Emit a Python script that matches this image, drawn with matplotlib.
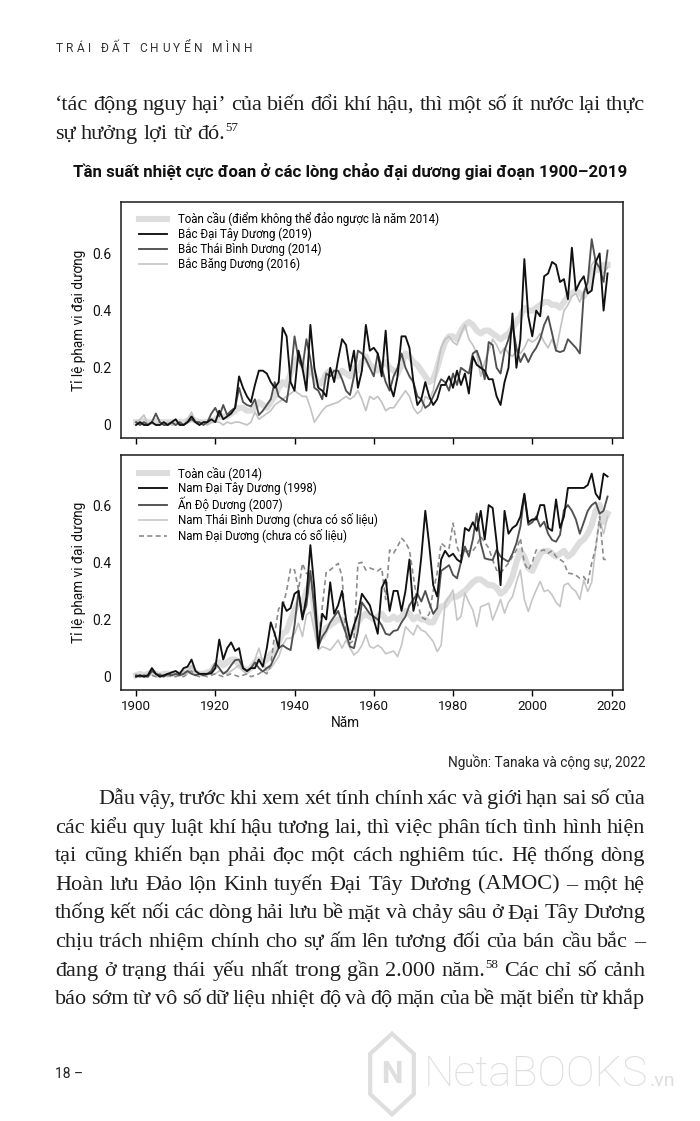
import numpy as np
import matplotlib
matplotlib.use("Agg")
import matplotlib.pyplot as plt
from matplotlib import font_manager as fm
from matplotlib.patches import RegularPolygon

W, H = 700, 1121

# ---- data (fraction of ocean area) ----
years = np.arange(1900, 2020)

glob_n = [
    0.01, 0.01, 0.015, 0.01, 0.01, 0.015, 0.01, 0.01, 0.01, 0.01,
    0.01, 0.01, 0.01, 0.015, 0.02, 0.015, 0.01, 0.01, 0.01, 0.015,
    0.02, 0.03, 0.03, 0.03, 0.04, 0.05, 0.06, 0.06, 0.05, 0.05,
    0.06, 0.08, 0.07, 0.06, 0.08, 0.10, 0.13, 0.15, 0.14, 0.18,
    0.22, 0.24, 0.21, 0.17, 0.20, 0.17, 0.14, 0.15, 0.18, 0.19,
    0.18, 0.17, 0.19, 0.18, 0.17, 0.20, 0.19, 0.22, 0.24, 0.21,
    0.20, 0.19, 0.21, 0.22, 0.20, 0.19, 0.18, 0.21, 0.25, 0.24,
    0.22, 0.21, 0.19, 0.17, 0.15, 0.16, 0.20, 0.25, 0.29, 0.31,
    0.31, 0.30, 0.33, 0.35, 0.36, 0.35, 0.33, 0.32, 0.33, 0.33,
    0.32, 0.31, 0.30, 0.31, 0.32, 0.34, 0.36, 0.38, 0.41, 0.40,
    0.40, 0.41, 0.42, 0.43, 0.43, 0.42, 0.42, 0.41, 0.43, 0.45,
    0.46, 0.47, 0.46, 0.45, 0.47, 0.52, 0.55, 0.54, 0.56, 0.56]

natl = [
    0.0, 0.01, 0.0, 0.0, 0.01, 0.0, 0.0, 0.01, 0.0, 0.01,
    0.02, 0.0, 0.0, 0.01, 0.03, 0.01, 0.0, 0.01, 0.01, 0.02,
    0.01, 0.05, 0.02, 0.03, 0.04, 0.06, 0.17, 0.13, 0.10, 0.08,
    0.14, 0.19, 0.19, 0.18, 0.15, 0.13, 0.15, 0.34, 0.31, 0.15,
    0.12, 0.26, 0.20, 0.12, 0.35, 0.20, 0.13, 0.12, 0.10, 0.20,
    0.15, 0.23, 0.30, 0.28, 0.19, 0.26, 0.13, 0.19, 0.35, 0.26,
    0.27, 0.25, 0.17, 0.33, 0.14, 0.10, 0.17, 0.31, 0.31, 0.27,
    0.15, 0.07, 0.09, 0.15, 0.10, 0.07, 0.09, 0.14, 0.14, 0.17,
    0.13, 0.19, 0.14, 0.18, 0.11, 0.24, 0.21, 0.20, 0.19, 0.16,
    0.16, 0.10, 0.07, 0.15, 0.20, 0.39, 0.20, 0.30, 0.58, 0.38,
    0.31, 0.40, 0.38, 0.52, 0.53, 0.57, 0.56, 0.50, 0.51, 0.44,
    0.62, 0.47, 0.50, 0.52, 0.46, 0.47, 0.57, 0.60, 0.40, 0.53]

npac = [
    0.01, 0.0, 0.01, 0.0, 0.01, 0.04, 0.01, 0.0, 0.0, 0.01,
    0.0, 0.01, 0.0, 0.01, 0.02, 0.01, 0.01, 0.0, 0.01, 0.04,
    0.06, 0.03, 0.07, 0.035, 0.05, 0.06, 0.13, 0.08, 0.07, 0.065,
    0.09, 0.035, 0.05, 0.07, 0.09, 0.15, 0.10, 0.09, 0.08, 0.17,
    0.31, 0.23, 0.20, 0.30, 0.23, 0.13, 0.12, 0.09, 0.18, 0.17,
    0.19, 0.19, 0.16, 0.12, 0.105, 0.17, 0.26, 0.25, 0.23, 0.20,
    0.17, 0.25, 0.20, 0.15, 0.12, 0.17, 0.20, 0.25, 0.20, 0.17,
    0.15, 0.10, 0.09, 0.06, 0.07, 0.10, 0.13, 0.16, 0.15, 0.12,
    0.18, 0.14, 0.20, 0.19, 0.18, 0.25, 0.26, 0.22, 0.16, 0.29,
    0.28, 0.20, 0.18, 0.26, 0.30, 0.35, 0.27, 0.22, 0.25, 0.22,
    0.25, 0.27, 0.30, 0.35, 0.38, 0.32, 0.26, 0.255, 0.26, 0.30,
    0.285, 0.27, 0.25, 0.46, 0.50, 0.65, 0.57, 0.55, 0.50, 0.61]

arct = [
    0.01, 0.02, 0.035, 0.0, 0.01, 0.0, 0.01, 0.0, 0.01, 0.0,
    0.0, 0.01, 0.0, 0.02, 0.045, 0.01, 0.0, 0.01, 0.0, 0.01,
    0.01, 0.01, 0.0, 0.01, 0.005, 0.01, 0.01, 0.005, 0.0, 0.01,
    0.045, 0.02, 0.03, 0.04, 0.05, 0.07, 0.08, 0.09, 0.10, 0.11,
    0.12, 0.11, 0.10, 0.10, 0.06, 0.01, 0.03, 0.05, 0.065, 0.07,
    0.075, 0.08, 0.09, 0.10, 0.09, 0.10, 0.12, 0.09, 0.05, 0.10,
    0.09, 0.10, 0.08, 0.05, 0.06, 0.06, 0.08, 0.10, 0.12, 0.10,
    0.06, 0.04, 0.05, 0.10, 0.09, 0.12, 0.20, 0.27, 0.30, 0.31,
    0.29, 0.28, 0.32, 0.35, 0.30, 0.28, 0.25, 0.17, 0.22, 0.26,
    0.30, 0.28, 0.25, 0.27, 0.25, 0.24, 0.26, 0.25, 0.27, 0.30,
    0.29, 0.30, 0.32, 0.29, 0.27, 0.30, 0.26, 0.33, 0.40, 0.42,
    0.45, 0.46, 0.43, 0.47, 0.50, 0.56, 0.58, 0.55, 0.53, 0.55]

glob_s = [
    0.005, 0.01, 0.005, 0.01, 0.015, 0.01, 0.005, 0.01, 0.01, 0.01,
    0.01, 0.01, 0.015, 0.02, 0.03, 0.015, 0.01, 0.01, 0.015, 0.02,
    0.04, 0.05, 0.04, 0.05, 0.06, 0.06, 0.04, 0.03, 0.02, 0.03,
    0.05, 0.06, 0.05, 0.06, 0.08, 0.09, 0.12, 0.15, 0.16, 0.20,
    0.23, 0.26, 0.25, 0.30, 0.33, 0.24, 0.15, 0.14, 0.17, 0.18,
    0.19, 0.20, 0.20, 0.17, 0.15, 0.16, 0.19, 0.21, 0.22, 0.21,
    0.20, 0.21, 0.22, 0.20, 0.20, 0.21, 0.20, 0.21, 0.23, 0.22,
    0.20, 0.21, 0.20, 0.20, 0.19, 0.19, 0.22, 0.245, 0.25, 0.27,
    0.28, 0.28, 0.29, 0.30, 0.315, 0.33, 0.34, 0.34, 0.33, 0.32,
    0.32, 0.31, 0.29, 0.30, 0.32, 0.35, 0.40, 0.44, 0.42, 0.38,
    0.37, 0.40, 0.43, 0.44, 0.44, 0.43, 0.42, 0.43, 0.44, 0.42,
    0.43, 0.45, 0.47, 0.48, 0.50, 0.53, 0.58, 0.60, 0.54, 0.57]

satl = [
    0.0, 0.005, 0.0, 0.005, 0.03, 0.01, 0.0, 0.005, 0.01, 0.015,
    0.02, 0.01, 0.03, 0.035, 0.06, 0.02, 0.01, 0.01, 0.01, 0.012,
    0.03, 0.13, 0.06, 0.10, 0.12, 0.09, 0.10, 0.03, 0.02, 0.03,
    0.03, 0.06, 0.035, 0.10, 0.19, 0.15, 0.10, 0.26, 0.23, 0.24,
    0.29, 0.30, 0.20, 0.28, 0.46, 0.31, 0.10, 0.22, 0.20, 0.33,
    0.22, 0.25, 0.30, 0.20, 0.13, 0.18, 0.22, 0.29, 0.27, 0.25,
    0.20, 0.15, 0.31, 0.34, 0.23, 0.30, 0.30, 0.23, 0.30, 0.41,
    0.23, 0.29, 0.42, 0.58, 0.46, 0.32, 0.28, 0.41, 0.44, 0.42,
    0.43, 0.41, 0.40, 0.52, 0.51, 0.54, 0.51, 0.58, 0.48, 0.60,
    0.59, 0.47, 0.32, 0.58, 0.50, 0.52, 0.53, 0.56, 0.64, 0.54,
    0.55, 0.55, 0.60, 0.60, 0.52, 0.51, 0.62, 0.52, 0.56, 0.66,
    0.66, 0.66, 0.66, 0.66, 0.67, 0.71, 0.64, 0.62, 0.71, 0.70]

indn = [
    0.005, 0.0, 0.005, 0.0, 0.02, 0.01, 0.005, 0.0, 0.01, 0.005,
    0.01, 0.005, 0.01, 0.02, 0.01, 0.005, 0.01, 0.005, 0.01, 0.02,
    0.047, 0.03, 0.01, 0.02, 0.04, 0.058, 0.06, 0.03, 0.02, 0.03,
    0.05, 0.03, 0.018, 0.03, 0.04, 0.07, 0.10, 0.11, 0.10, 0.093,
    0.18, 0.30, 0.21, 0.25, 0.37, 0.24, 0.105, 0.14, 0.16, 0.19,
    0.21, 0.23, 0.19, 0.15, 0.105, 0.10, 0.16, 0.26, 0.24, 0.22,
    0.21, 0.20, 0.18, 0.15, 0.146, 0.16, 0.163, 0.19, 0.21, 0.25,
    0.27, 0.29, 0.263, 0.30, 0.257, 0.22, 0.24, 0.37, 0.38, 0.39,
    0.356, 0.344, 0.40, 0.455, 0.42, 0.48, 0.571, 0.467, 0.414, 0.41,
    0.408, 0.443, 0.42, 0.41, 0.402, 0.43, 0.467, 0.525, 0.636, 0.531,
    0.54, 0.56, 0.525, 0.542, 0.50, 0.478, 0.472, 0.496, 0.583, 0.60,
    0.58, 0.55, 0.50, 0.54, 0.58, 0.60, 0.61, 0.57, 0.58, 0.63]

spac = [
    0.01, 0.0, 0.005, 0.01, 0.03, 0.01, 0.0, 0.005, 0.0, 0.01,
    0.005, 0.01, 0.02, 0.01, 0.04, 0.015, 0.01, 0.005, 0.01, 0.01,
    0.01, 0.02, 0.015, 0.01, 0.02, 0.03, 0.04, 0.02, 0.01, 0.03,
    0.06, 0.10, 0.05, 0.02, 0.03, 0.05, 0.07, 0.11, 0.134, 0.134,
    0.15, 0.187, 0.14, 0.216, 0.227, 0.16, 0.093, 0.105, 0.10, 0.093,
    0.11, 0.128, 0.10, 0.128, 0.10, 0.076, 0.088, 0.11, 0.146, 0.105,
    0.10, 0.11, 0.10, 0.08, 0.085, 0.09, 0.07, 0.11, 0.175, 0.16,
    0.146, 0.18, 0.163, 0.157, 0.14, 0.123, 0.088, 0.11, 0.257, 0.28,
    0.303, 0.198, 0.21, 0.292, 0.26, 0.233, 0.175, 0.245, 0.25, 0.257,
    0.198, 0.233, 0.27, 0.222, 0.26, 0.28, 0.33, 0.373, 0.27, 0.228,
    0.27, 0.303, 0.333, 0.298, 0.303, 0.286, 0.26, 0.245, 0.32, 0.327,
    0.31, 0.298, 0.27, 0.338, 0.298, 0.33, 0.45, 0.55, 0.50, 0.56]

sthn = [
    0.0, 0.005, 0.0, 0.0, 0.005, 0.0, 0.01, 0.0, 0.005, 0.0,
    0.0, 0.005, 0.0, 0.01, 0.02, 0.005, 0.0, 0.005, 0.0, 0.005,
    0.01, 0.005, 0.0, 0.005, 0.01, 0.005, 0.0, 0.005, 0.01, 0.0,
    0.005, 0.01, 0.02, 0.01, 0.04, 0.152, 0.239, 0.245, 0.30, 0.379,
    0.373, 0.303, 0.396, 0.361, 0.36, 0.245, 0.117, 0.245, 0.367, 0.373,
    0.385, 0.396, 0.35, 0.14, 0.117, 0.128, 0.396, 0.40, 0.373, 0.38,
    0.375, 0.37, 0.38, 0.27, 0.443, 0.432, 0.455, 0.484, 0.47, 0.443,
    0.35, 0.257, 0.21, 0.20, 0.22, 0.30, 0.362, 0.467, 0.455, 0.449,
    0.537, 0.455, 0.42, 0.437, 0.44, 0.44, 0.46, 0.49, 0.47, 0.45,
    0.408, 0.373, 0.362, 0.38, 0.397, 0.42, 0.443, 0.484, 0.397, 0.373,
    0.40, 0.443, 0.44, 0.443, 0.432, 0.44, 0.42, 0.41, 0.40, 0.362,
    0.36, 0.355, 0.344, 0.35, 0.327, 0.397, 0.45, 0.56, 0.41, 0.41]

labels_n = ["Toàn cầu (điểm không thể đảo ngược là năm 2014)",
            "Bắc Đại Tây Dương (2019)", "Bắc Thái Bình Dương (2014)",
            "Bắc Băng Dương (2016)"]
labels_s = ["Toàn cầu (2014)", "Nam Đại Tây Dương (1998)", "Ấn Độ Dương (2007)",
            "Nam Thái Bình Dương (chưa có số liệu)", "Nam Đại Dương (chưa có số liệu)"]
yticks = [0, 0.2, 0.4, 0.6]
ytick_labels = ["0", "0.2", "0.4", "0.6"]
xticks = [1900, 1920, 1940, 1960, 1980, 2000, 2020]

title = "Tần suất nhiệt cực đoan ở các lòng chảo đại dương giai đoạn 1900–2019"
ylab = "Tỉ lệ phạm vi đại dương"
source = "Nguồn: Tanaka và cộng sự, 2022"
header = "TRÁI ĐẤT CHUYỂN MÌNH"
para1 = [("‘tác động nguy hại’ của biến đổi khí hậu, thì một số ít nước lại thực", True),
         ("sự hưởng lợi từ đó.^57", False)]
para2 = [("Dẫu vậy, trước khi xem xét tính chính xác và giới hạn sai số của", True),
         ("các kiểu quy luật khí hậu tương lai, thì việc phân tích tình hình hiện", True),
         ("tại cũng khiến bạn phải đọc một cách nghiêm túc. Hệ thống dòng", True),
         ("Hoàn lưu Đảo lộn Kinh tuyến Đại Tây Dương (AMOC) – một hệ", True),
         ("thống kết nối các dòng hải lưu bề mặt và chảy sâu ở Đại Tây Dương", True),
         ("chịu trách nhiệm chính cho sự ấm lên tương đối của bán cầu bắc –", True),
         ("đang ở trạng thái yếu nhất trong gần 2.000 năm.^58 Các chỉ số cảnh", True),
         ("báo sớm từ vô số dữ liệu nhiệt độ và độ mặn của bề mặt biển từ khắp", True)]

# ---- fonts ----
installed = {f.name for f in fm.fontManager.ttflist}
SANS = ["Roboto", "DejaVu Sans"]
NARROW = (["Liberation Sans Narrow"] if "Liberation Sans Narrow" in installed else []) + SANS
SERIF = ["Liberation Serif", "DejaVu Serif"]
plt.rcParams["font.family"] = SANS
INK = "#1e1e1e"

fig = plt.figure(figsize=(W / 100, H / 100), dpi=100)
rend = fig.canvas.get_renderer()


def fx(x):
    return x / W


def fy(y):
    return 1 - y / H


def put_line(text, base, x0, x1, justify, size=16):
    words = text.split(" ")
    items = []
    for w in words:
        sup = None
        if "^" in w:
            w, sup = w.split("^")
        t = fig.text(0, fy(base), w, fontsize=size, family=SERIF, color=INK, va="baseline")
        wd = t.get_window_extent(rend).width
        s = None
        wd_s = 0
        if sup:
            s = fig.text(0, fy(base - 8), sup, fontsize=size * 0.58, family=SERIF,
                         color=INK, va="baseline")
            wd_s = s.get_window_extent(rend).width
        items.append((t, s, wd, wd_s))
    total = sum(i[2] + i[3] for i in items)
    if justify and len(items) > 1:
        gap = (x1 - x0 - total) / (len(items) - 1)
    else:
        gap = size * 0.25 * 100 / 72
    x = x0
    for t, s, wd, wd_s in items:
        t.set_x(fx(x))
        if s is not None:
            s.set_x(fx(x + wd))
        x += wd + wd_s + gap


# running header with letter spacing
chars = [fig.text(0, fy(49), c, fontsize=8.6, color="#333333", va="center") for c in header]
cw = [c.get_window_extent(rend).width for c in chars]
track = (252 - 56 - sum(cw)) / (len(chars) - 1)
xx = 56
for c, w in zip(chars, cw):
    c.set_x(fx(xx))
    xx += w + track

for i, (txt, j) in enumerate(para1):
    put_line(txt, 110 + 28.6 * i, 55, 645, j)

fig.text(fx(350), fy(172), title, family=NARROW, fontsize=12.2, fontweight="bold",
         color="#111111", ha="center", va="center")

styles = {
    4: [dict(color="#dddddd", lw=4.4, zorder=1, solid_joinstyle="round"),
        dict(color="#111111", lw=1.35, zorder=4),
        dict(color="#505050", lw=1.35, zorder=3),
        dict(color="#c2c2c2", lw=1.2, zorder=2)],
    5: [dict(color="#dddddd", lw=4.4, zorder=1, solid_joinstyle="round"),
        dict(color="#111111", lw=1.35, zorder=5),
        dict(color="#505050", lw=1.35, zorder=4),
        dict(color="#c6c6c6", lw=1.2, zorder=2),
        dict(color="#8c8c8c", lw=1.2, ls=(0, (3, 2)), zorder=3)],
}


def panel(top, bottom, zero, series, labels, leg_y):
    ax = fig.add_axes([fx(121), fy(bottom), (623 - 121) / W, (bottom - top) / H])
    for vals, lab, st in zip(series, labels, styles[len(series)]):
        ax.plot(years, vals, label=lab, **st)
    ax.set_xlim(1896.2, 2022.9)
    ax.set_ylim(-(bottom - zero) / 286.0, (zero - top) / 286.0)
    ax.set_yticks(yticks)
    ax.set_yticklabels(ytick_labels)
    ax.set_xticks(xticks)
    ax.tick_params(axis="y", length=0, pad=7, labelsize=10, labelcolor="#111111")
    ax.tick_params(axis="x", direction="out", length=4, width=1, pad=3,
                   labelsize=9.6, labelcolor="#111111")
    for sp in ax.spines.values():
        sp.set_linewidth(1.1)
        sp.set_color("#1a1a1a")
    ax.set_ylabel(ylab, fontsize=9.8, color="#111111")
    ax.yaxis.set_label_coords((86 - 121) / 502, 0.5)
    ax.legend(loc="upper left", bbox_to_anchor=(0.036, leg_y), frameon=False,
              fontsize=8.3, handlelength=2.4, handletextpad=1.0, labelspacing=0.14,
              borderaxespad=0, borderpad=0)
    return ax


ax1 = panel(201.7, 438.3, 425, [glob_n, natl, npac, arct], labels_n, 0.958)
ax1.tick_params(axis="x", labelbottom=False)
ax2 = panel(455, 690, 676.7, [glob_s, satl, indn, spac, sthn], labels_s, 0.955)
ax2.set_xlabel("Năm", fontsize=9.8, color="#111111")
ax2.xaxis.set_label_coords((345 - 121) / 502, -0.11)

fig.text(fx(645), fy(762), source, family=NARROW, fontsize=9.8, color="#222222",
         ha="right", va="center")

put_line(para2[0][0], 804, 98, 645, True)
for i, (txt, j) in enumerate(para2[1:], start=1):
    put_line(txt, 804 + 28.6 * i, 55, 645, j)

fig.text(fx(55), fy(1074), "18 –", fontsize=10, color="#222222", va="center")

# watermark
fig.patches.append(RegularPolygon((fx(392), fy(1074)), 6, radius=0.036, orientation=0,
                                  transform=fig.transFigure, fill=False,
                                  edgecolor="#dedede", lw=3))
fig.text(fx(392), fy(1074), "N", fontsize=22, color="#dedede", ha="center", va="center",
         fontweight="bold")
fig.text(fx(424), fy(1074), "NetaBOOKS", fontsize=31, color="#dedede", va="center",
         fontweight="light")
fig.text(fx(650), fy(1081), ".vn", fontsize=14, color="#dedede", va="center")

fig.savefig("out.png", dpi=100, facecolor="white")
